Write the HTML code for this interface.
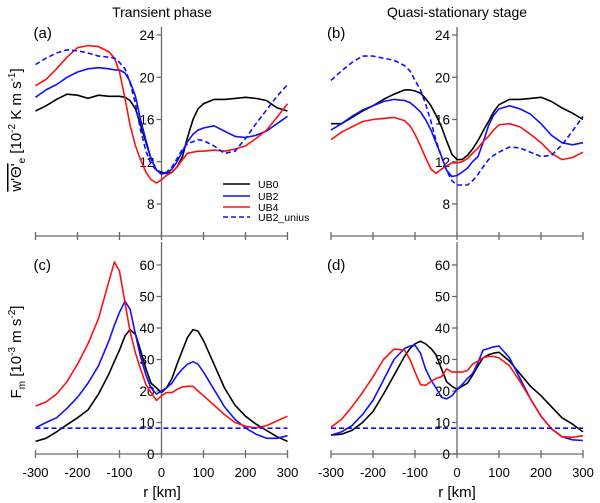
<!DOCTYPE html>
<html><head><meta charset="utf-8"><style>
html,body{margin:0;padding:0;background:#fff}
svg{display:block;font-family:"Liberation Sans",Arial,sans-serif}
</style></head><body>
<svg id="fig" width="600" height="503" viewBox="0 0 600 503" xmlns="http://www.w3.org/2000/svg">
<text x="162" y="17" font-size="14" text-anchor="middle">Transient phase</text>
<text x="457" y="17" font-size="14" text-anchor="middle">Quasi-stationary stage</text>
<text transform="translate(21,130) rotate(-90)" font-size="15" text-anchor="middle"><tspan text-decoration="overline">w'Θ'</tspan><tspan font-size="10" dy="4">e</tspan><tspan dy="-4"> [10</tspan><tspan font-size="10" dy="-6">-2</tspan><tspan dy="6"> K m s</tspan><tspan font-size="10" dy="-6">-1</tspan><tspan dy="6">]</tspan></text>
<text transform="translate(21,352) rotate(-90)" font-size="15" text-anchor="middle">F<tspan font-size="10" dy="4">m</tspan><tspan dy="-4"> [10</tspan><tspan font-size="10" dy="-6">-3</tspan><tspan dy="6"> m s</tspan><tspan font-size="10" dy="-6">-2</tspan><tspan dy="6">]</tspan></text>
<text x="162" y="497" font-size="15" text-anchor="middle">r [km]</text>
<text x="457" y="497" font-size="15" text-anchor="middle">r [km]</text>
<g id="plots"></g>
<g>
<line x1="223" y1="184" x2="250" y2="184" stroke="#000" stroke-width="1.5"/><text x="258" y="188" font-size="10.5">UB0</text>
<line x1="223" y1="196" x2="250" y2="196" stroke="#1010ff" stroke-width="1.5"/><text x="258" y="200" font-size="10.5">UB2</text>
<line x1="223" y1="207" x2="250" y2="207" stroke="#ff1010" stroke-width="1.5"/><text x="258" y="211" font-size="10.5">UB4</text>
<line x1="223" y1="217" x2="250" y2="217" stroke="#1010ff" stroke-width="1.5" stroke-dasharray="5,3"/><text x="258" y="221" font-size="10.5">UB2_unius</text>
</g>
</svg>
<script>
const xs=[-300,-275,-250,-225,-200,-175,-150,-125,-112,-100,-87,-75,-62,-50,-37,-25,-12,0,12,25,37,50,62,75,87,100,125,150,175,200,225,250,275,300];
const xTicks=[-300,-200,-100,0,100,200,300];
const topTicks=[8,12,16,20,24];
const botTicks=[0,10,20,30,40,50,60];
const aUB0=[16.8,17.3,17.9,18.4,18.3,18.0,18.3,18.2,18.2,18.2,18.1,17.8,17.0,15.5,13.8,12.3,11.2,11.0,10.9,11.0,11.5,12.5,14.3,16.0,17.0,17.5,17.9,17.9,18.0,18.1,18.0,17.8,17.1,16.8];
const aUB2=[18.1,18.8,19.3,20.0,20.5,20.8,20.9,20.8,20.7,20.7,20.4,19.6,18.2,16.0,14.0,12.3,11.2,10.9,10.9,11.3,12.0,13.0,13.9,14.6,15.0,15.2,15.4,14.9,14.4,14.3,14.5,14.9,15.6,16.3];
const aUB4=[19.2,19.8,20.8,21.9,22.8,23.0,22.9,22.4,21.8,20.5,18.0,15.5,13.5,12.2,11.0,10.3,10.0,10.3,10.7,11.0,11.5,12.2,12.8,12.9,13.0,13.0,13.1,13.0,13.2,13.5,14.2,15.0,16.2,17.5];
const aUni=[21.2,21.8,22.3,22.6,22.5,22.3,22.0,21.9,21.8,21.4,20.8,19.5,17.5,15.0,13.0,11.8,11.2,10.8,11.0,11.5,12.3,13.2,13.7,13.9,14.1,14.0,13.5,12.8,13.0,14.2,15.6,16.9,18.2,19.3];
const bUB0=[15.6,15.6,16.2,16.8,17.3,17.9,18.4,18.8,18.8,18.7,18.5,18.0,17.3,16.4,15.3,14.0,12.7,12.2,12.2,12.6,13.2,14.0,14.9,15.8,16.7,17.4,17.9,17.9,18.0,18.1,17.7,17.1,16.6,16.0];
const bUB2=[15.0,15.6,16.3,16.9,17.3,17.7,17.9,17.8,17.6,17.2,16.7,16.0,15.0,13.8,12.5,11.2,10.6,10.7,11.0,11.4,12.0,12.5,13.8,15.4,16.4,17.0,17.3,17.0,16.5,15.6,14.5,13.8,13.6,13.8];
const bUB4=[14.1,14.8,15.3,15.8,16.0,16.1,16.2,15.9,15.4,14.6,13.5,12.4,11.3,10.9,11.3,11.6,11.9,11.9,12.0,12.3,12.8,13.3,13.9,14.4,15.0,15.5,15.6,15.3,14.6,13.8,12.8,12.2,12.4,12.9];
const bUni=[19.7,20.6,21.4,22.0,22.0,21.8,21.6,21.1,20.6,19.7,18.8,17.5,15.8,14.0,12.5,11.2,10.2,9.8,9.8,9.8,10.2,10.8,11.5,12.2,12.6,12.9,13.4,13.3,12.9,12.5,12.6,13.6,14.9,16.3];
const cUB0=[4,5,7,9.3,11.5,14,19,25.5,29.5,33,37.5,39.5,38,33,27,22.5,21,19.5,21,24,28.5,33,37,39.5,39,36,28.5,21,15.5,12,9.5,7.5,5.5,4];
const cUB2=[8.3,10,11.5,14.5,18,22.5,28,36,41,45,48.5,46,38,31,25,21,19,20,21,22.5,25,27,28.5,29.3,28.5,26,20.5,15,11,8.3,6.3,5,5,5.8];
const cUB4=[15.2,16.5,19,23,28.5,35,43,55,61,58,48,39,32,27,22,19.5,17,18.5,19.5,19.5,20.5,21.3,21.5,21.5,20,18.5,15.5,12.5,10,8.8,8.3,9,10.5,12];
const cUni=[8.2,8.2,8.2,8.2,8.2,8.2,8.2,8.2,8.2,8.2,8.2,8.2,8.2,8.2,8.2,8.2,8.2,8.2,8.2,8.2,8.2,8.2,8.2,8.2,8.2,8.2,8.2,8.2,8.2,8.2,8.2,8.2,8.2,8.2];
const dUB0=[6,6.3,7.5,10,13.5,19,25,31,33.5,35,35.8,35,33.5,31.5,27,23,21.5,20.5,21.5,22.5,25,28,30.5,31.5,32,32.3,29.5,25.5,21.5,18.5,15,11.5,9.5,7];
const dUB2=[6,7,9,12.5,17,23.5,30,33.5,34.3,34.5,32,27,23.5,21,18,17.5,18.5,20.5,22,24,25.5,29,33,33.5,34,34.3,30.5,24,17.5,12,8,5.5,4.5,4.3];
const dUB4=[8.5,11,15,19.5,24.5,30,33.3,33,30,26,22,21.8,23,24,24.5,27,26,26,26,26.5,28.5,29.5,30.5,31,31,30.5,28,23,17.5,12,8,5.5,5.3,5.8];
const dUni=[8.2,8.2,8.2,8.2,8.2,8.2,8.2,8.2,8.2,8.2,8.2,8.2,8.2,8.2,8.2,8.2,8.2,8.2,8.2,8.2,8.2,8.2,8.2,8.2,8.2,8.2,8.2,8.2,8.2,8.2,8.2,8.2,8.2,8.2];

const NS='http://www.w3.org/2000/svg';
const root=document.getElementById('plots');
function mk(tag,attrs,parent){const e=document.createElementNS(NS,tag);for(const k in attrs)e.setAttribute(k,attrs[k]);parent.appendChild(e);return e;}
const AX='#6a6a6a';
const panels=[
 {id:'a',x0:35.5,top:true,series:[aUB0,aUB2,aUB4,aUni]},
 {id:'b',x0:331,top:true,series:[bUB0,bUB2,bUB4,bUni]},
 {id:'c',x0:35.5,top:false,series:[cUB0,cUB2,cUB4,cUni]},
 {id:'d',x0:331,top:false,series:[dUB0,dUB2,dUB4,dUni]}];
const styles=[['#000',''],['#1010ff',''],['#ff1010',''],['#1010ff','5,3']];
const names=['ub0','ub2','ub4','ub2-unius'];
panels.forEach(p=>{
 const g=mk('g',{},root);
 
 
 const X=v=>p.x0+(v+300)*252/600;
 const Y=p.top?(v=>204-(v-8)*10.5625):(v=>454-v*3.15);
 const xAxisY=p.top?236:454;
 const vTop=p.top?27:242;
 // x axis
 const xa=mk('line',{x1:X(-300),x2:X(300),y1:xAxisY,y2:xAxisY,stroke:AX,'stroke-width':1.3},g);
 
 
 xTicks.forEach(t=>{
  mk('line',{x1:X(t),x2:X(t),y1:xAxisY-4,y2:xAxisY+4,stroke:AX,'stroke-width':1.3},g);
  if(!p.top){const tx=mk('text',{x:X(t),y:477,'font-size':13,'text-anchor':'middle'},g);tx.textContent=t;
   
   }
 });
 // y axis
 const ya=mk('line',{x1:X(0),x2:X(0),y1:vTop,y2:xAxisY,stroke:AX,'stroke-width':1.3},g);
 
 
 (p.top?topTicks:botTicks).forEach(t=>{
  mk('line',{x1:X(0)-5,x2:X(0),y1:Y(t),y2:Y(t),stroke:AX,'stroke-width':1.3},g);
  const tx=mk('text',{x:X(0)-7,y:Y(t)+5,'font-size':13.5,'text-anchor':'end'},g);tx.textContent=t;
  
  
 });
 const lb=mk('text',{x:p.x0-2+(p.id==='b'||p.id==='d'?-2:0),y:p.top?38:270,'font-size':15},g);lb.textContent='('+p.id+')';
 
 
 p.series.forEach((s,i)=>{
  const d=s.map((v,j)=>(j?'L':'M')+X(xs[j]).toFixed(1)+','+Y(v).toFixed(1)).join('');
  const a={d:d,fill:'none',stroke:styles[i][0],'stroke-width':1.6,'stroke-linejoin':'round'};
  if(styles[i][1])a['stroke-dasharray']=styles[i][1];
  const pa=mk('path',a,g);
  
  
 });
});
</script>
</body></html>
